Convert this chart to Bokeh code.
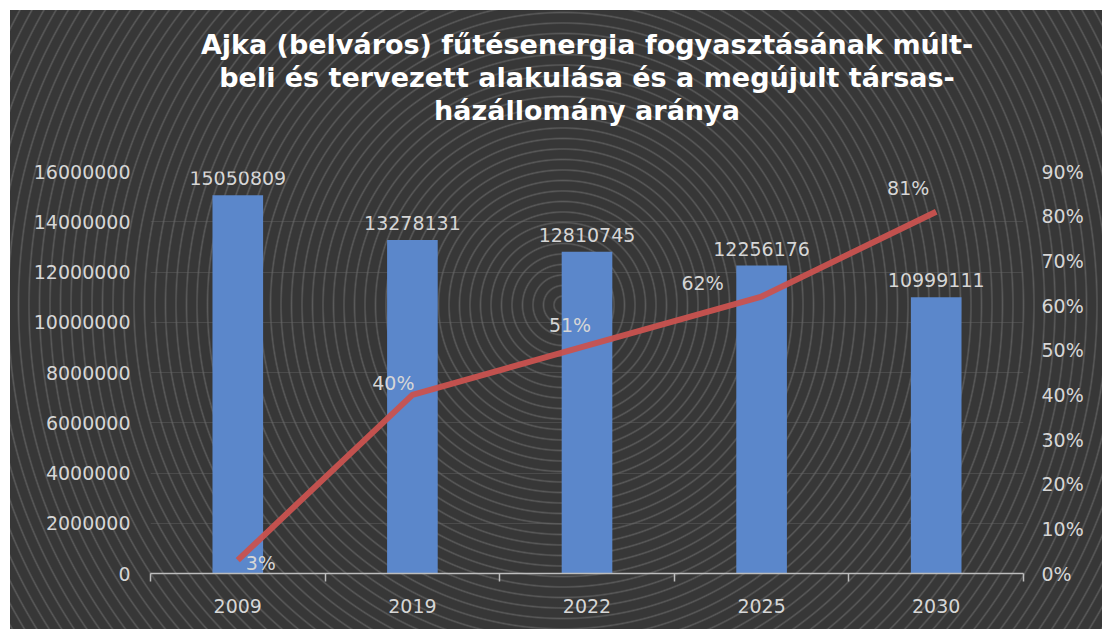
from bokeh.plotting import figure
from bokeh.models import (Range1d, LinearAxis, FixedTicker, ColumnDataSource, Title,
                          NumeralTickFormatter, InlineStyleSheet)
from bokeh.core.properties import value
from bokeh.embed import file_html
from bokeh.resources import INLINE

# ---- data ----
years = ["2009", "2019", "2022", "2025", "2030"]
consumption = [15050809, 13278131, 12810745, 12256176, 10999111]
renewed_share = [0.03, 0.40, 0.51, 0.62, 0.81]
left_ticks = [0, 2000000, 4000000, 6000000, 8000000, 10000000, 12000000, 14000000, 16000000]
right_ticks = [0.0, 0.1, 0.2, 0.3, 0.4, 0.5, 0.6, 0.7, 0.8, 0.9]
title_lines = ["Ajka (belváros) fűtésenergia fogyasztásának múlt-",
               "beli és tervezett alakulása és a megújult társas-",
               "házállomány aránya"]

# label offsets (style, in pixels)
pct_dx = [23, -19, -17, -59, -28]
pct_dy = [3, -12, -21, -14, -24]

xs = list(range(len(years)))
src = ColumnDataSource(dict(
    x=xs, cons=consumption, cons_txt=[str(v) for v in consumption],
    share=renewed_share, share_txt=[f"{round(v*100)}%" for v in renewed_share],
    dx=pct_dx, dy=pct_dy))

FONT = "DejaVu Sans"
TXT = "#d6d6d6"

p = figure(width=1092, height=619, x_range=Range1d(-0.5, len(years) - 0.5),
           y_range=Range1d(0, 16000000), output_backend="svg", toolbar_location=None,
           min_border_left=140, min_border_right=79, min_border_top=0, min_border_bottom=56)
p.margin = (10, 0, 0, 10)
p.background_fill_alpha = 0
p.border_fill_alpha = 0
p.outline_line_color = None
p.stylesheets = [InlineStyleSheet(css=(
    ":host { background-color: #363636; background-image: repeating-radial-gradient(circle at 553px 295px, "
    "#373737 0px, #373737 7.5px, #5a5a5a 9px, #373737 10.5px); }"))]

p.extra_y_ranges = {"pct": Range1d(0, 0.9)}

# titles: spacer nearest the frame, then lines bottom-up, then a top spacer
p.add_layout(Title(text=" ", text_font_size="40px", standoff=0), "above")
for line in reversed(title_lines):
    t = Title(text=line, align="center", text_color="white", text_font=FONT,
              text_font_size="27px", text_font_style="bold", standoff=0)
    p.add_layout(t, "above")
p.add_layout(Title(text=" ", text_font_size="12px", standoff=0), "above")

# grid
p.xgrid.grid_line_color = None
p.ygrid.ticker = FixedTicker(ticks=left_ticks)
p.ygrid.grid_line_color = "#6a6a6a"
p.ygrid.grid_line_alpha = 0.4

# left axis
ya = p.yaxis[0]
ya.ticker = FixedTicker(ticks=left_ticks)
ya.formatter = NumeralTickFormatter(format="0")
ya.axis_line_color = None
ya.major_tick_line_color = None
ya.minor_tick_line_color = None
ya.major_label_text_color = TXT
ya.major_label_text_font = FONT
ya.major_label_text_font_size = "19px"
ya.major_label_standoff = 14

# right axis
ra = LinearAxis(y_range_name="pct", ticker=FixedTicker(ticks=right_ticks),
                formatter=NumeralTickFormatter(format="0%"))
ra.axis_line_color = None
ra.major_tick_line_color = None
ra.minor_tick_line_color = None
ra.major_label_text_color = TXT
ra.major_label_text_font = FONT
ra.major_label_text_font_size = "19px"
ra.major_label_standoff = 12
p.add_layout(ra, "right")

# bottom axis
xa = p.xaxis[0]
xa.ticker = FixedTicker(ticks=xs, minor_ticks=[i - 0.5 for i in range(len(years) + 1)])
xa.major_label_overrides = {i: y for i, y in enumerate(years)}
xa.axis_line_color = "#bdbdbd"
xa.axis_line_width = 1.5
xa.major_tick_line_color = None
xa.major_tick_out = 0
xa.major_tick_in = 0
xa.minor_tick_line_color = "#bdbdbd"
xa.minor_tick_line_width = 1.5
xa.minor_tick_out = 8
xa.minor_tick_in = 0
xa.major_label_text_color = TXT
xa.major_label_text_font = FONT
xa.major_label_text_font_size = "19px"
xa.major_label_standoff = 17

# bars
p.vbar(x="x", top="cons", width=0.29, source=src, fill_color="#5b87cb", line_color=None)
p.text(x="x", y="cons", text="cons_txt", source=src, text_align="center",
       text_baseline="bottom", y_offset=-10, text_color=TXT,
       text_font=value(FONT), text_font_size="19px")

# line
p.line(x="x", y="share", source=src, y_range_name="pct", line_color="#c9524f",
       line_width=6, line_alpha=0.95)
p.text(x="x", y="share", text="share_txt", source=src, y_range_name="pct",
       x_offset="dx", y_offset="dy", text_align="center", text_baseline="middle",
       text_color=TXT, text_font=value(FONT), text_font_size="19px")

open("out.html", "w").write(file_html(p, INLINE))
